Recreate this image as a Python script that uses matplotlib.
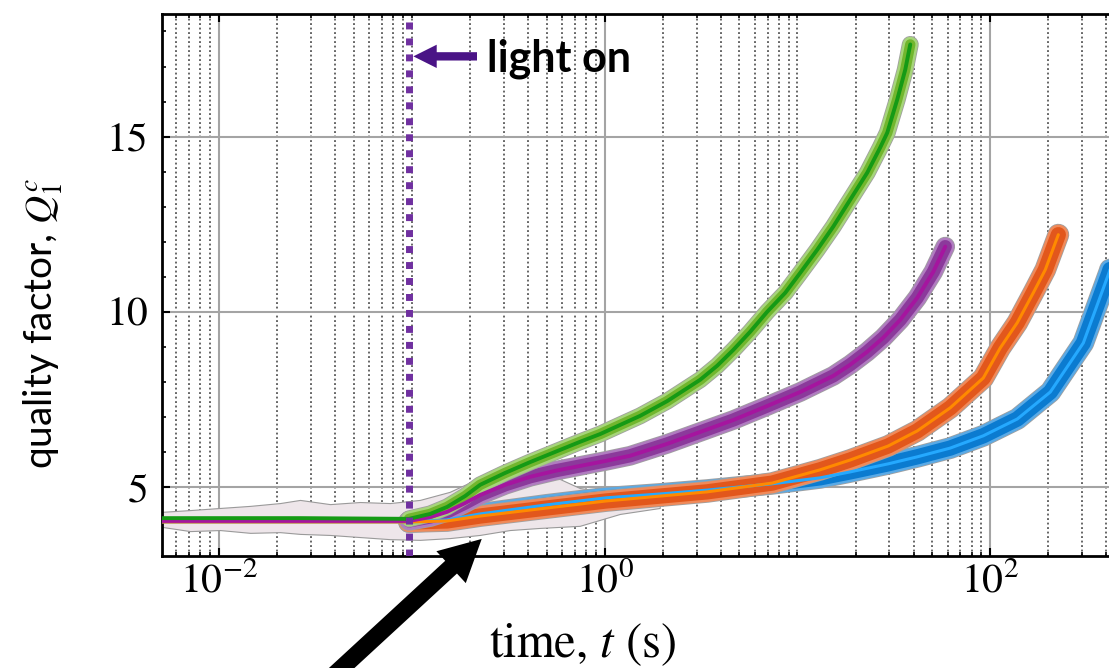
import matplotlib
matplotlib.use("Agg")
import matplotlib.pyplot as plt
import matplotlib.patheffects as pe
import numpy as np
from matplotlib.ticker import FixedLocator, FixedFormatter, LogLocator, MultipleLocator, NullFormatter

plt.rcParams.update({"mathtext.fontset": "stix", "font.family": "STIXGeneral"})

# --- values ----------------------------------------------------------------
LIGHT_ON = 0.0967  # s

green_t = [0.00506, 0.0263, 0.0967, 0.1244, 0.1524, 0.1889, 0.2259, 0.3046,
           0.4108, 0.5536, 0.7462, 0.9477, 1.203, 1.528, 2.110, 3.130, 3.834,
           4.643, 5.686, 6.966, 8.638, 10.33, 12.66, 15.33, 18.78, 23.01,
           26.87, 29.22, 32.93, 36.23, 38.46]
green_q = [4.11, 4.11, 4.09, 4.23, 4.43, 4.74, 5.06, 5.40,
           5.71, 6.00, 6.29, 6.51, 6.77, 7.03, 7.45, 8.06, 8.46,
           8.91, 9.43, 10.0, 10.54, 11.11, 11.77, 12.43, 13.2, 13.97,
           14.69, 15.11, 16.06, 16.91, 17.63]

purple_t = [0.00506, 0.0967, 0.1244, 0.1524, 0.1889, 0.2259, 0.3046, 0.4108,
            0.5536, 0.7462, 1.006, 1.356, 2.110, 3.130, 4.643, 6.966, 10.33,
            15.33, 18.78, 23.01, 27.86, 34.13, 41.81, 50.62, 58.42]
purple_q = [4.03, 4.03, 4.14, 4.29, 4.54, 4.77, 5.06, 5.29,
            5.46, 5.60, 5.74, 5.89, 6.23, 6.57, 6.91, 7.31, 7.71,
            8.17, 8.49, 8.86, 9.26, 9.77, 10.40, 11.14, 11.86]

orange_t = [0.00506, 0.0967, 0.1524, 0.2259, 0.5031, 1.018, 1.941, 3.402,
            7.396, 13.12, 18.78, 29.57, 41.81, 62.02, 91.98, 112.7, 138.1,
            167.1, 192.9, 225.4]
orange_q = [4.00, 4.00, 4.03, 4.17, 4.40, 4.60, 4.74, 4.86,
            5.11, 5.49, 5.77, 6.17, 6.60, 7.26, 8.11, 8.97, 9.69,
            10.54, 11.2, 12.2]

blue_t = [0.00506, 0.0967, 0.1524, 0.2259, 0.5031, 1.018, 1.941, 3.402,
          7.396, 13.12, 18.78, 29.57, 41.81, 62.02, 91.98, 138.1, 204.8,
          303.8, 414.4, 472.5]
blue_q = [4.00, 4.00, 4.06, 4.23, 4.49, 4.69, 4.80, 4.91,
          5.09, 5.26, 5.43, 5.66, 5.86, 6.11, 6.46, 6.94, 7.71,
          9.11, 11.14, 12.2]

# scatter cloud of the raw points before/around light-on (upper / lower edge)
noise_t = [0.00506, 0.00708, 0.0101, 0.0145, 0.0207, 0.0263, 0.0376, 0.0538,
           0.0769, 0.110, 0.157, 0.225, 0.322, 0.460, 0.742, 1.20, 1.93]
noise_hi = [4.29, 4.34, 4.40, 4.46, 4.54, 4.63, 4.51, 4.57,
            4.54, 4.63, 4.86, 5.26, 5.63, 5.49, 4.97, 4.80, 4.86]
noise_lo = [3.86, 3.74, 3.77, 3.69, 3.71, 3.66, 3.63, 3.57,
            3.51, 3.49, 3.54, 3.63, 3.77, 3.83, 3.89, 4.23, 4.40]

XTICKS = [1e-2, 1e0, 1e2]
XTICKLABELS = [r"$10^{-2}$", r"$10^{0}$", r"$10^{2}$"]
YTICKS = [5, 10, 15]
YTICKLABELS = ["5", "10", "15"]

# --- figure ----------------------------------------------------------------
fig = plt.figure(figsize=(11.09, 6.68), dpi=100)
# axes run past the right edge of the picture, as in the cropped original
ax = fig.add_axes([0.1461, 0.1677, 0.9207, 0.8114])
ax.set_xscale("log")
ax.set_xlim(0.00506, 1000)
ax.set_ylim(3.03, 18.5)

ax.set_axisbelow(True)
ax.grid(which="major", color="#a4a4a4", lw=1.5, ls="-")
ax.grid(which="minor", axis="x", color="#606060", lw=1.35, ls=(0, (1, 1.4)))

# raw-data cloud
ax.fill_between(noise_t, noise_lo, noise_hi, facecolor="#eee6ea",
                edgecolor="#9a9a9a", lw=0.8, zorder=2)

series = [
    (blue_t, blue_q, "#0b7bd0", "#5aaae6", "#25a9ff", 14.5, 2.2),
    (orange_t, orange_q, "#e2571c", "#f08a5a", "#ff8a00", 14.5, 2.2),
    (purple_t, purple_q, "#8b3a9b", "#b07cc0", "#a5159f", 13.0, 2.8),
    (green_t, green_q, "#72b62e", "#a6d57a", "#159a15", 11.0, 2.8),
]

for t, q, main, light, centre, w, cw in series:
    t = np.asarray(t)
    q = np.asarray(q)
    on = t >= LIGHT_ON
    ax.plot(t[on], q[on], color=main, lw=w - 3.5, solid_capstyle="round",
            solid_joinstyle="round", zorder=3,
            path_effects=[pe.Stroke(linewidth=w + 1.2, foreground="#a0a0a0"),
                          pe.Stroke(linewidth=w, foreground=light),
                          pe.Normal()])

for t, q, main, light, centre, w, cw in series:
    ax.plot(t, q, color=centre, lw=cw, solid_capstyle="round",
            solid_joinstyle="round", zorder=4)

ax.axvline(LIGHT_ON, color="#7030a0", lw=5, ls=(0, (1, 1.3)),
           dash_capstyle="butt", zorder=6)

ax.xaxis.set_major_locator(FixedLocator(XTICKS))
ax.xaxis.set_major_formatter(FixedFormatter(XTICKLABELS))
ax.xaxis.set_minor_locator(LogLocator(base=10, subs=np.arange(1, 10), numticks=50))
ax.xaxis.set_minor_formatter(NullFormatter())
ax.yaxis.set_major_locator(FixedLocator(YTICKS))
ax.yaxis.set_major_formatter(FixedFormatter(YTICKLABELS))
ax.yaxis.set_minor_locator(MultipleLocator(1))

ax.tick_params(which="both", direction="in", top=True, right=True,
               color="black", labelsize=30)
ax.tick_params(which="major", length=6, width=1.5)
ax.tick_params(which="minor", length=3, width=1.2)
ax.tick_params(axis="y", pad=10)
ax.tick_params(axis="x", pad=5)
for sp in ax.spines.values():
    sp.set_linewidth(2)
    sp.set_color("black")

ax.set_xlabel(r"time, $t$ (s)", fontsize=35)
ax.xaxis.set_label_coords(0.412, -0.121)
ax.set_ylabel(r"quality factor, $Q_1^c$", fontsize=28, family="Lato")
ax.yaxis.set_label_coords(-0.095, 0.43)

# "light on" marker
ax.annotate("", xy=(0.0985, 17.29), xytext=(0.225, 17.29),
            arrowprops=dict(arrowstyle="simple,head_length=1.4,head_width=1.4,tail_width=0.5",
                            mutation_scale=12, color="#4a1486", lw=0),
            zorder=7)
ax.text(0.245, 17.22, "light on", fontsize=31, fontweight="bold", family="Lato",
        ha="left", va="center", color="black", zorder=7)

# black arrow pointing at the onset
ax.annotate("", xy=(0.236, 3.57), xycoords="data",
            xytext=(0.2885, -0.03), textcoords="figure fraction",
            arrowprops=dict(arrowstyle="simple,head_length=1.25,head_width=1.3,tail_width=0.52",
                            mutation_scale=24, color="black", lw=0),
            annotation_clip=False, zorder=8)

fig.savefig("out.png", dpi=100)
